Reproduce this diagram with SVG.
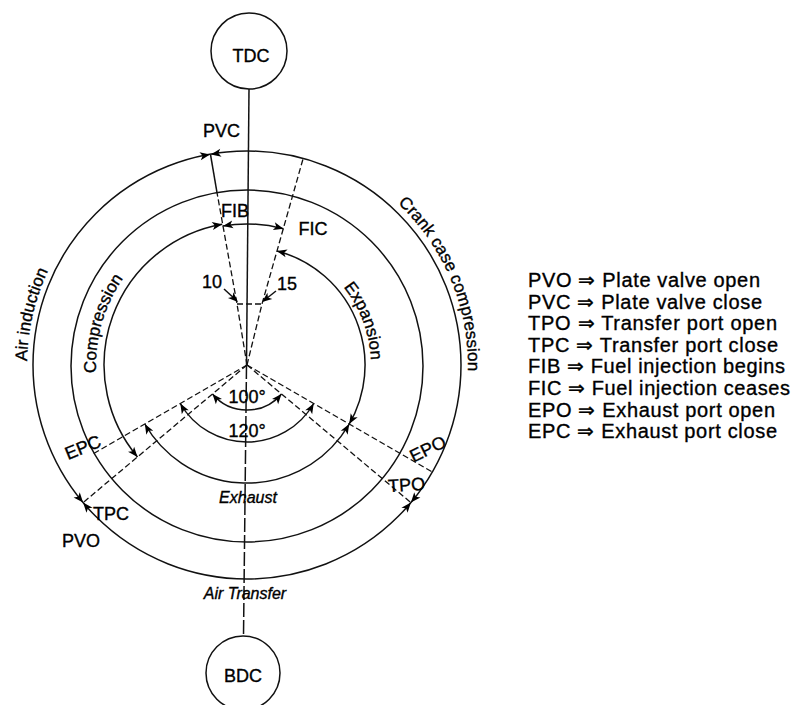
<svg xmlns="http://www.w3.org/2000/svg" xmlns:xlink="http://www.w3.org/1999/xlink" width="792" height="705" viewBox="0 0 792 705">
<style>
.ln{stroke:#111;fill:none;stroke-width:1.5}
.ds{stroke:#111;fill:none;stroke-width:1.3;stroke-dasharray:6 3}
.t{font-family:"Liberation Sans",Arial,Helvetica,sans-serif;fill:#000;stroke:#000;stroke-width:0.35;font-size:18px}
.it{font-style:italic;font-size:16px}
.lg{font-size:20px}
.cv{font-size:17px}
</style>
<defs>
<path id="ah" d="M0,0 L-10,-4 L-7.5,0 L-10,4 Z" fill="#000"/>
<path id="pCrank" d="M397.7,203.4 A221,221 0 0 1 464.6,403.4"/>
<path id="pAir" d="M27,361.2 A220,220 0 0 1 66.8,238.8"/>
<path id="pComp" d="M96.2,372.9 A151,151 0 0 1 140.2,258.2"/>
<path id="pExp" d="M343.4,287 A124,124 0 0 1 369.1,386.5"/>
</defs>
<rect width="792" height="705" fill="#fff"/>

<g id="TDC">
<circle class="ln" cx="249" cy="51" r="38"/>
<text class="t" x="251" y="62" text-anchor="middle">TDC</text>
</g>
<g id="BDC">
<circle class="ln" cx="243" cy="673" r="37"/>
<text class="t" x="243" y="682" text-anchor="middle">BDC</text>
</g>

<g id="connectors">
<line class="ln" x1="249" y1="89" x2="246.5" y2="365" stroke-width="1.2"/>
<line class="ln" x1="246.5" y1="365" x2="243.5" y2="636" stroke-width="1.2" stroke-dasharray="14 3"/>
</g>

<g id="circles">
<circle class="ln" cx="247" cy="365" r="214"/>
<circle class="ln" cx="247" cy="366" r="176"/>
<path class="ln" d="M137.5,456.9 A143,143 0 0 1 222.2,224.2"/>
<path class="ln" d="M222.5,226.1 A141,141 0 0 1 283.5,228.8"/>
<path class="ln" d="M276.9,250.9 A118,118 0 1 1 144.8,424"/>
<path class="ln" d="M313.7,403.5 A77,77 0 0 1 180.3,403.5"/>
<path class="ln" d="M281.5,393.9 A45,45 0 0 1 212.5,393.9"/>
</g>

<g id="radial-lines">
<line class="ds" x1="247" y1="365" x2="91.1" y2="455"/>
<line class="ds" x1="247" y1="365" x2="83.1" y2="502.6"/>
<line class="ds" x1="247" y1="365" x2="432.3" y2="472"/>
<line class="ds" x1="247" y1="365" x2="410.9" y2="502.6"/>
<polyline class="ds" points="247,365 237,304 217,192.6"/>
<line class="ln" x1="217" y1="192.6" x2="210.5" y2="154.5" stroke-width="1.3"/>
<polyline class="ds" points="247,365 262,304 303,159"/>
<line class="ds" x1="237" y1="304" x2="262" y2="304" stroke-dasharray="5 3"/>
<line class="ln" x1="224" y1="289" x2="236" y2="300" stroke-width="1.3"/>
<line class="ln" x1="276" y1="291" x2="264" y2="300.5" stroke-width="1.3"/>
</g>

<g id="arrowheads">
<use xlink:href="#ah" transform="translate(210,154.5) rotate(-10)"/>
<use xlink:href="#ah" transform="translate(211,154.5) rotate(170)"/>
<use xlink:href="#ah" transform="translate(410.9,502.6) rotate(130)"/>
<use xlink:href="#ah" transform="translate(410.9,502.6) rotate(-50)"/>
<use xlink:href="#ah" transform="translate(83.1,502.6) rotate(230)"/>
<use xlink:href="#ah" transform="translate(83.1,502.6) rotate(50)"/>
<use xlink:href="#ah" transform="translate(137.5,456.9) rotate(50)"/>
<use xlink:href="#ah" transform="translate(222.2,224.2) rotate(-10)"/>
<use xlink:href="#ah" transform="translate(223,226.1) rotate(170)"/>
<use xlink:href="#ah" transform="translate(283.5,228.8) rotate(15)"/>
<use xlink:href="#ah" transform="translate(276.9,250.9) rotate(195)"/>
<use xlink:href="#ah" transform="translate(349.2,424) rotate(120)"/>
<use xlink:href="#ah" transform="translate(349.2,424) rotate(-60)"/>
<use xlink:href="#ah" transform="translate(144.8,424) rotate(240)"/>
<use xlink:href="#ah" transform="translate(313.7,403.5) rotate(-60)"/>
<use xlink:href="#ah" transform="translate(180.3,403.5) rotate(240)"/>
<use xlink:href="#ah" transform="translate(281.5,393.9) rotate(-50)"/>
<use xlink:href="#ah" transform="translate(212.5,393.9) rotate(230)"/>
<use xlink:href="#ah" transform="translate(238,302) rotate(43)"/>
<use xlink:href="#ah" transform="translate(262,302) rotate(142)"/>
</g>

<g id="labels">
<text class="t" x="203" y="137" font-size="19">PVC</text>
<text class="t" x="235" y="217" text-anchor="middle">FIB</text>
<text class="t" x="313" y="235" text-anchor="middle">FIC</text>
<text class="t" x="212" y="288" text-anchor="middle" font-size="17">10</text>
<text class="t" x="287" y="290" text-anchor="middle" font-size="17">15</text>
<text class="t" x="247" y="403" text-anchor="middle">100°</text>
<text class="t" x="247" y="437" text-anchor="middle">120°</text>
<text class="t it" x="248" y="503" text-anchor="middle">Exhaust</text>
<text class="t it" x="245" y="599" text-anchor="middle">Air Transfer</text>
<text class="t" x="83" y="453.5" text-anchor="middle" transform="rotate(-22 83 447.5)">EPC</text>
<text class="t" x="93" y="520">TPC</text>
<text class="t" x="62" y="547" font-size="19">PVO</text>
<text class="t" x="428" y="455" text-anchor="middle" transform="rotate(-26 428 449)">EPO</text>
<text class="t" x="406.5" y="491" text-anchor="middle" transform="rotate(-4 406.5 485)">TPO</text>
<text class="t cv"><textPath xlink:href="#pCrank">Crank case compression</textPath></text>
<text class="t cv"><textPath xlink:href="#pAir">Air induction</textPath></text>
<text class="t cv"><textPath xlink:href="#pComp">Compression</textPath></text>
<text class="t cv"><textPath xlink:href="#pExp">Expansion</textPath></text>
</g>

<g id="legend">
<text class="t lg" x="528" y="287" textLength="232" lengthAdjust="spacing">PVO ⇒ Plate valve open</text>
<text class="t lg" x="528" y="308.6" textLength="234" lengthAdjust="spacing">PVC ⇒ Plate valve close</text>
<text class="t lg" x="528" y="330.2" textLength="249" lengthAdjust="spacing">TPO ⇒ Transfer port open</text>
<text class="t lg" x="528" y="351.8" textLength="250" lengthAdjust="spacing">TPC ⇒ Transfer port close</text>
<text class="t lg" x="528" y="373.4" textLength="257" lengthAdjust="spacing">FIB ⇒ Fuel injection begins</text>
<text class="t lg" x="528" y="395" textLength="262" lengthAdjust="spacing">FIC ⇒ Fuel injection ceases</text>
<text class="t lg" x="528" y="416.6" textLength="247" lengthAdjust="spacing">EPO ⇒ Exhaust port open</text>
<text class="t lg" x="528" y="438.2" textLength="249" lengthAdjust="spacing">EPC ⇒ Exhaust port close</text>
</g>
</svg>
